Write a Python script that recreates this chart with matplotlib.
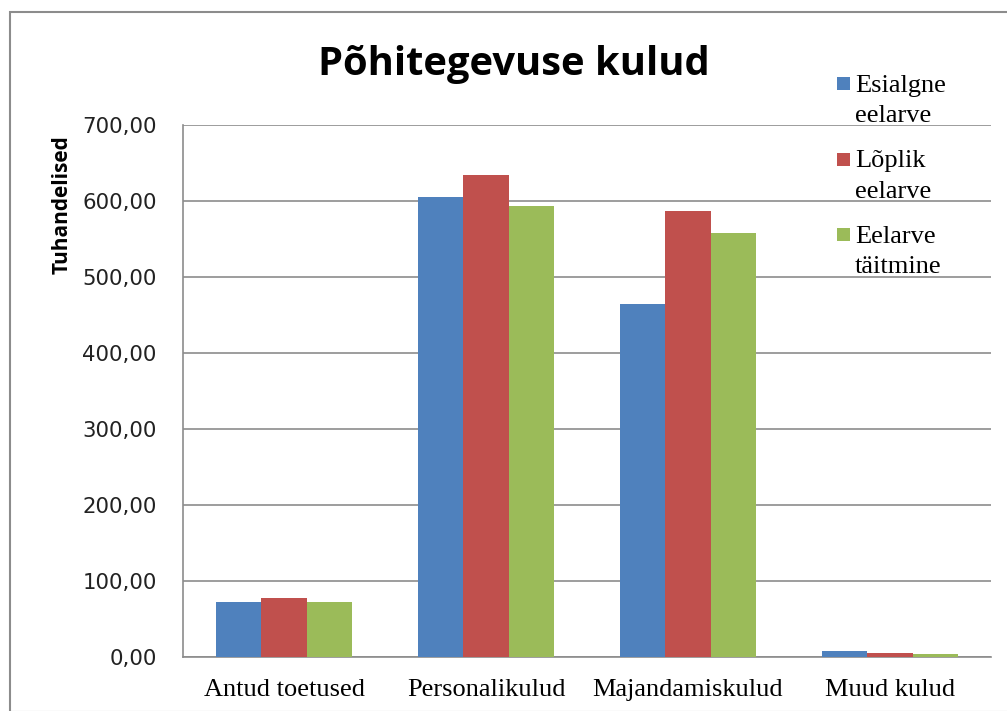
import matplotlib
matplotlib.use("Agg")
import matplotlib.pyplot as plt
import numpy as np
from matplotlib.patches import Rectangle

categories = ["Antud toetused", "Personalikulud", "Majandamiskulud", "Muud kulud"]
series_names = ["Esialgne\neelarve", "Lõplik\neelarve", "Eelarve\ntäitmine"]
esialgne = [72.0, 605.5, 464.0, 8.3]
loplik = [77.5, 634.0, 587.0, 5.3]
taitmine = [72.0, 594.0, 558.0, 4.0]
yticks = [0, 100, 200, 300, 400, 500, 600, 700]
ytick_labels = ["0,00", "100,00", "200,00", "300,00", "400,00", "500,00", "600,00", "700,00"]
colors = ["#4F81BD", "#C0504D", "#9BBB59"]

W, H = 1007, 711
fig = plt.figure(figsize=(W/100, H/100), dpi=100)
fig.patches.append(Rectangle((10/W, 1-712/H), 1.5, (712-12)/H, transform=fig.transFigure,
                             fill=False, edgecolor="#8c8c8c", linewidth=1.5))

ax = fig.add_axes([183/W, 1-657/H, (991-183)/W, (657-125)/H])
x = np.arange(len(categories))
w = 0.223
for i, vals in enumerate([esialgne, loplik, taitmine]):
    ax.bar(x + (i-1)*w, vals, width=w, color=colors[i], label=series_names[i], zorder=3)

ax.set_xlim(-0.5, len(categories)-0.5)
ax.set_ylim(0, 700)
ax.set_yticks(yticks)
ax.set_yticklabels(ytick_labels, fontfamily="DejaVu Sans", fontsize=15.3, color="#222222")
ax.set_xticks(x)
ax.set_xticklabels(categories, fontfamily="Liberation Serif", fontsize=19)
ax.tick_params(axis="x", length=0, pad=16)
ax.tick_params(axis="y", length=0, pad=19)
ax.grid(axis="y", color="#8c8c8c", linewidth=1.2, zorder=0)
for s in ["top", "right"]:
    ax.spines[s].set_visible(False)
for s in ["left", "bottom"]:
    ax.spines[s].set_color("#8c8c8c")
    ax.spines[s].set_linewidth(1.2)

fig.text(514/W, 1-64/H, "Põhitegevuse kulud", fontfamily="Open Sans", fontweight="bold",
         fontsize=28.7, ha="center", va="center")
fig.text(62/W, 1-205/H, "Tuhandelised", fontfamily="Open Sans", fontweight="bold",
         fontsize=15, rotation=90, ha="center", va="center")

# legend (drawn manually to match first-line aligned markers)
for i, name in enumerate(series_names):
    base = 92 + 75.5*i
    fig.patches.append(Rectangle((837/W, 1-(base-2)/H), 13/W, 13/H, transform=fig.transFigure,
                                 facecolor=colors[i], edgecolor="none"))
    for j, line in enumerate(name.split("\n")):
        fig.text(855/W, 1-(base + 30*j)/H, line, fontfamily="Liberation Serif", fontsize=19,
                 ha="left", va="baseline")

fig.savefig("out.png", dpi=100)
